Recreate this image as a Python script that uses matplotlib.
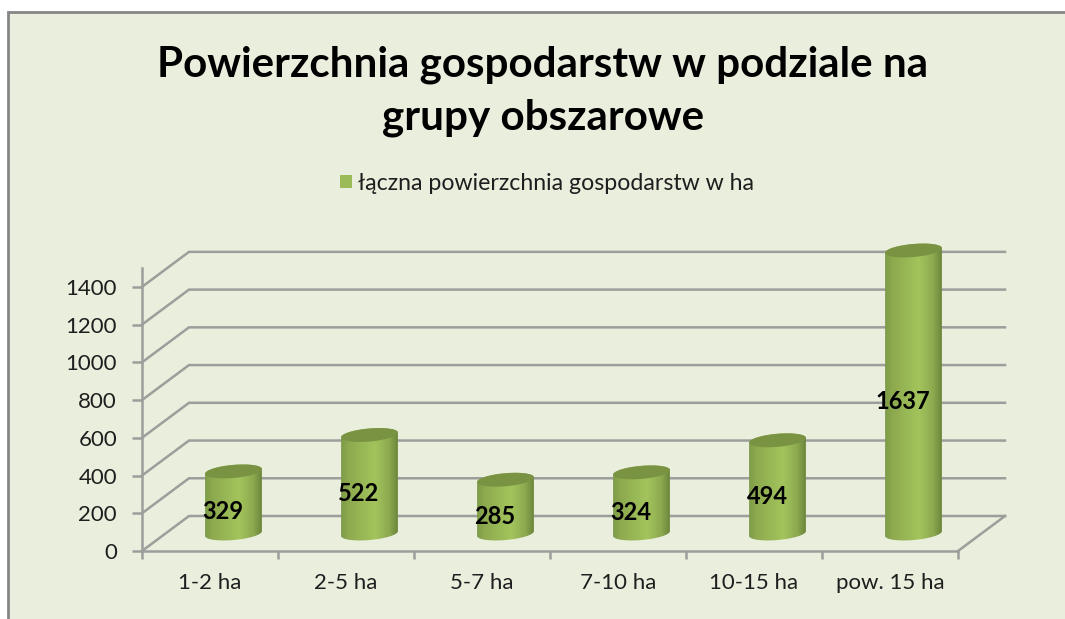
import matplotlib
matplotlib.use("Agg")
import matplotlib.pyplot as plt
from matplotlib.colors import LinearSegmentedColormap
from matplotlib.patches import Patch, Polygon, Rectangle
import numpy as np

# ---------------------------
# DATA
# ---------------------------
categories = ["1-2 ha", "2-5 ha", "5-7 ha", "7-10 ha", "10-15 ha", "pow. 15 ha"]
values = [329, 522, 285, 324, 494, 1637]
y_ticks = [0, 200, 400, 600, 800, 1000, 1200, 1400]
y_max = 1500
title = "Powierzchnia gospodarstw w podziale na\ngrupy obszarowe"
series_name = "łączna powierzchnia gospodarstw w ha"

# ---------------------------
# STYLE
# ---------------------------
FONT = "Lato"
BG = "#EAEEDD"
GRID = "#9C9E9C"
FRAME = "#868686"
TEXT = "#1E1E1E"
TOP = "#7A9343"

plt.rcParams["font.family"] = FONT

W, H = 1065, 619
fig = plt.figure(figsize=(W / 100, H / 100), dpi=100, facecolor="white")
fig.patches.append(Rectangle((8 / W, -0.01), 1.01, 1 - 12 / H + 0.01, transform=fig.transFigure,
                             facecolor=BG, edgecolor=FRAME, linewidth=2, zorder=-1))

ax = fig.add_axes([142 / W, 1 - 551 / H, (958 - 142) / W, (551 - 268) / H])
ax.patch.set_visible(False)

# pixels per data unit, the 3D look is done by hand
px_x = (958 - 142) / len(categories)
px_y = (551 - 268) / y_max
depth_x = 47 / px_x
depth_y = 35 / px_y
x_left = -0.5
x_right = len(categories) - 0.5

# ---------------------------
# WALLS
# ---------------------------
for t in y_ticks:
    ax.plot([x_left, x_left + depth_x, x_right + depth_x], [t, t + depth_y, t + depth_y],
            color=GRID, linewidth=1.8, clip_on=False, zorder=1, solid_joinstyle="miter")
ax.plot([x_right, x_right + depth_x], [0, depth_y], color=GRID, linewidth=1.8, clip_on=False, zorder=1)

# ---------------------------
# CYLINDERS
# ---------------------------
cmap = LinearSegmentedColormap.from_list(
    "cyl", [(0, "#7E9A48"), (0.12, "#8CA94E"), (0.6, "#A3C45C"), (0.85, "#8DA94F"), (1, "#6B853B")])
gradient = np.linspace(0, 1, 256).reshape(1, -1)


def ellipse_points(cx, cy, half_w=28.5, half_h=6.5, tilt=5, start=0, stop=360):
    # tilted ellipse, worked out in pixels and handed back in data units
    t = np.radians(np.linspace(start, stop, 90))
    a = np.radians(tilt)
    dx = half_w * np.cos(t) * np.cos(a) - half_h * np.sin(t) * np.sin(a)
    dy = half_w * np.cos(t) * np.sin(a) + half_h * np.sin(t) * np.cos(a)
    return cx + dx / px_x, cy + dy / px_y


for i, v in enumerate(values):
    shown = min(v, y_max)
    cx = i + depth_x / 2
    base = depth_y / 2

    bx, by = ellipse_points(cx, base, start=180, stop=360)
    tx, ty = ellipse_points(cx, base + shown, start=0, stop=180)
    body = Polygon(np.column_stack([np.r_[bx, tx], np.r_[by, ty]]), closed=True,
                   facecolor="none", edgecolor="none", zorder=3, clip_on=False)
    ax.add_patch(body)
    img = ax.imshow(gradient, extent=[cx - 28.5 / px_x, cx + 28.5 / px_x, base - 10 / px_y, base + shown + 10 / px_y],
                    aspect="auto", cmap=cmap, zorder=3, interpolation="bilinear")
    img.set_clip_box(fig.bbox)
    img.set_clip_path(body)

    ex, ey = ellipse_points(cx, base + shown)
    ax.add_patch(Polygon(np.column_stack([ex, ey]), closed=True, facecolor=TOP, edgecolor="none",
                         zorder=4, clip_on=False))

    ax.text(i + 13 / px_x, shown / 2 + 8 / px_y, str(v), ha="center", va="center",
            fontsize=17, fontweight="bold", color="black", zorder=5)

# ---------------------------
# AXES
# ---------------------------
ax.set_xlim(x_left, x_right)
ax.set_ylim(0, y_max)

for side in ["top", "right"]:
    ax.spines[side].set_visible(False)
for side in ["left", "bottom"]:
    ax.spines[side].set_color(GRID)
    ax.spines[side].set_linewidth(1.8)

ax.set_yticks(y_ticks)
ax.tick_params(axis="y", length=7, width=1.8, color=GRID, labelsize=16, labelcolor=TEXT, pad=11)
ax.set_xticks(range(len(categories)))
ax.set_xticklabels(categories)
ax.set_xticks(np.arange(len(categories) + 1) - 0.5, minor=True)
ax.tick_params(axis="x", which="major", length=0, labelsize=16, labelcolor=TEXT, pad=16)
ax.tick_params(axis="x", which="minor", length=6, width=1.8, color=GRID)

# ---------------------------
# TITLE + LEGEND
# ---------------------------
fig.text(543 / W, 1 - 91 / H, title, ha="center", va="center", fontsize=30.3, fontweight="bold",
         color="black", linespacing=1.47)

legend_handles = [Patch(facecolor="#9BBB59", edgecolor="none", label=series_name)]
fig.legend(handles=legend_handles, loc="center", bbox_to_anchor=(547 / W, 1 - 183 / H), frameon=False,
           fontsize=16.7, handlelength=0.52, handleheight=0.52, handletextpad=0.25, labelcolor=TEXT)

fig.savefig("out.png", dpi=100, facecolor=fig.get_facecolor())
